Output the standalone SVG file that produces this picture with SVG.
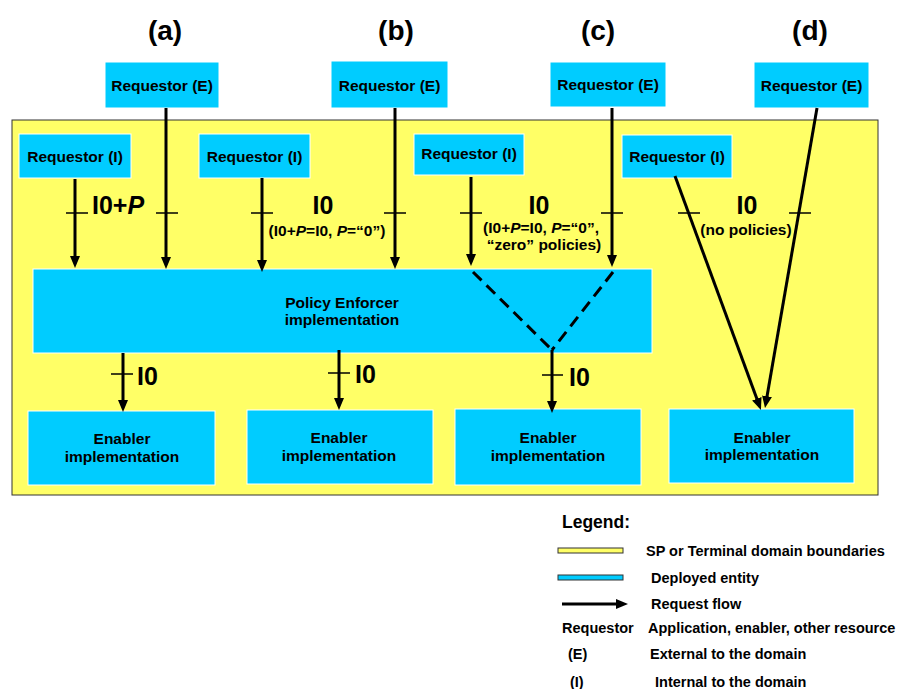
<svg xmlns="http://www.w3.org/2000/svg" width="899" height="689" viewBox="0 0 899 689">
<style>
text{font-family:"Liberation Sans",Arial,sans-serif;font-weight:bold;fill:#000}
.box{fill:#00CCFF;stroke:#ffffff;stroke-width:1}
.t{font-size:15.5px;text-anchor:middle}
.ttl{font-size:28px;text-anchor:middle}
.big{font-size:25px}
.mid{font-size:25px;text-anchor:middle}
.sub{font-size:15.5px;text-anchor:middle}
.lg{font-size:14.5px}
.flow{stroke:#000;stroke-width:3;fill:none}
.arr{marker-end:url(#ah)}
.dash{stroke:#000;stroke-width:3;fill:none;stroke-dasharray:12 7}
.tick{stroke:#000;stroke-width:1.5}
</style>
<defs>
<marker id="ah" markerUnits="userSpaceOnUse" markerWidth="14" markerHeight="12" refX="2" refY="5" orient="auto">
<path d="M0,0 L12,5 L0,10 z" fill="#000"/>
</marker>
</defs>
<rect width="899" height="689" fill="#fff"/>
<g id="domain">
<rect x="12" y="120" width="866" height="375" fill="#FFFF66" stroke="#333" stroke-width="1"/>
</g>
<g id="titles">
<text class="ttl" x="165" y="40">(a)</text>
<text class="ttl" x="396" y="40">(b)</text>
<text class="ttl" x="598" y="40">(c)</text>
<text class="ttl" x="810" y="40">(d)</text>
</g>
<g id="reqE-a"><rect class="box" x="105" y="62" width="114" height="46"/><text class="t" x="162" y="91">Requestor (E)</text></g>
<g id="reqE-b"><rect class="box" x="331" y="61" width="117" height="47"/><text class="t" x="389.5" y="91">Requestor (E)</text></g>
<g id="reqE-c"><rect class="box" x="550" y="62" width="116" height="45"/><text class="t" x="608" y="90">Requestor (E)</text></g>
<g id="reqE-d"><rect class="box" x="754" y="62" width="115" height="46"/><text class="t" x="811.5" y="91">Requestor (E)</text></g>
<g id="reqI-a"><rect class="box" x="19" y="134" width="112" height="44"/><text class="t" x="75" y="162">Requestor (I)</text></g>
<g id="reqI-b"><rect class="box" x="199" y="134" width="111" height="44"/><text class="t" x="254.5" y="162">Requestor (I)</text></g>
<g id="reqI-c"><rect class="box" x="414" y="134" width="110" height="41"/><text class="t" x="469" y="159">Requestor (I)</text></g>
<g id="reqI-d"><rect class="box" x="622" y="135" width="110" height="43"/><text class="t" x="677" y="162">Requestor (I)</text></g>
<g id="policy-enforcer"><rect class="box" x="33" y="269" width="619" height="84"/><text class="t" x="342" y="308">Policy Enforcer</text><text class="t" x="342" y="325">implementation</text></g>
<g id="enabler-a"><rect class="box" x="28" y="411" width="187" height="74"/><text class="t" x="122" y="444">Enabler</text><text class="t" x="122" y="462">implementation</text></g>
<g id="enabler-b"><rect class="box" x="247" y="410" width="186" height="74"/><text class="t" x="339" y="443">Enabler</text><text class="t" x="339" y="461">implementation</text></g>
<g id="enabler-c"><rect class="box" x="455" y="409" width="186" height="76"/><text class="t" x="548" y="443">Enabler</text><text class="t" x="548" y="461">implementation</text></g>
<g id="enabler-d"><rect class="box" x="669" y="409" width="185" height="74"/><text class="t" x="762" y="443">Enabler</text><text class="t" x="762" y="460">implementation</text></g>
<g id="connectors">
<line class="flow arr" x1="75" y1="179" x2="75" y2="258"/>
<line class="flow arr" x1="166" y1="108" x2="166" y2="259"/>
<line class="flow arr" x1="262" y1="178" x2="262" y2="262"/>
<line class="flow arr" x1="395" y1="108" x2="395" y2="259"/>
<line class="flow arr" x1="471" y1="177" x2="471" y2="256"/>
<line class="flow arr" x1="612" y1="108" x2="612" y2="257"/>
<line class="dash" x1="473" y1="272" x2="552" y2="350"/>
<line class="dash" x1="613" y1="272" x2="552" y2="350"/>
<line class="flow arr" x1="552" y1="350" x2="552" y2="403"/>
<line class="flow arr" x1="123" y1="353" x2="123" y2="402"/>
<line class="flow arr" x1="339" y1="350" x2="339" y2="400"/>
<line class="flow arr" x1="675" y1="176" x2="757.5" y2="400.6"/>
<line class="flow arr" x1="817" y1="108" x2="766.7" y2="398.2"/>
<line class="tick" x1="66" y1="213" x2="88" y2="213"/>
<line class="tick" x1="156" y1="213" x2="178" y2="213"/>
<line class="tick" x1="251" y1="213" x2="273" y2="213"/>
<line class="tick" x1="384" y1="213" x2="406" y2="213"/>
<line class="tick" x1="460" y1="213" x2="482" y2="213"/>
<line class="tick" x1="601" y1="213" x2="623" y2="213"/>
<line class="tick" x1="678" y1="213" x2="700" y2="213"/>
<line class="tick" x1="789" y1="213" x2="811" y2="213"/>
<line class="tick" x1="111" y1="374" x2="133" y2="374"/>
<line class="tick" x1="328" y1="373" x2="350" y2="373"/>
<line class="tick" x1="542" y1="375" x2="563" y2="375"/>
</g>
<g id="labels">
<text class="big" x="92" y="214">I0+<tspan font-style="italic">P</tspan></text>
<text class="mid" x="323" y="214">I0</text>
<text class="sub" x="327" y="236">(I0+<tspan font-style="italic">P</tspan>=I0, <tspan font-style="italic">P</tspan>=“0”)</text>
<text class="mid" x="539" y="214">I0</text>
<text class="sub" x="541" y="233">(I0+<tspan font-style="italic">P</tspan>=I0, <tspan font-style="italic">P</tspan>=“0”,</text>
<text class="sub" x="544" y="250">“zero” policies)</text>
<text class="mid" x="747" y="214">I0</text>
<text class="sub" x="746" y="235">(no policies)</text>
<text class="big" x="137" y="385">I0</text>
<text class="big" x="355" y="383">I0</text>
<text class="big" x="569" y="386">I0</text>
</g>
<g id="legend">
<text x="562" y="528" font-size="17.5px">Legend:</text>
<rect x="558" y="548" width="65" height="5" fill="#FFFF66" stroke="#333" stroke-width="1"/>
<text class="lg" x="646" y="556">SP or Terminal domain boundaries</text>
<rect x="558" y="575" width="65" height="5" fill="#00CCFF" stroke="#333" stroke-width="1"/>
<text class="lg" x="651" y="583">Deployed entity</text>
<line class="flow arr" x1="562" y1="604" x2="618" y2="604"/>
<text class="lg" x="651" y="609">Request flow</text>
<text class="lg" x="562" y="633">Requestor</text>
<text class="lg" x="648" y="633">Application, enabler, other resource</text>
<text class="lg" x="568" y="659">(E)</text>
<text class="lg" x="650" y="659">External to the domain</text>
<text class="lg" x="570" y="687">(I)</text>
<text class="lg" x="655" y="687">Internal to the domain</text>
</g>
</svg>
